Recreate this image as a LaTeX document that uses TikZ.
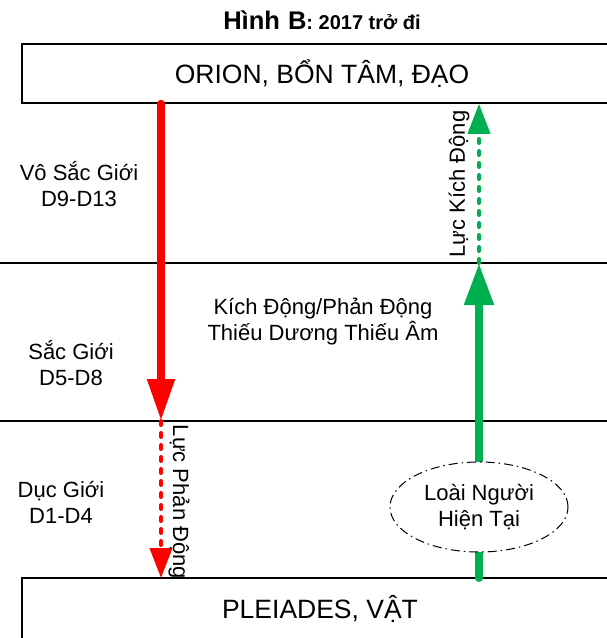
\documentclass[tikz,border=0pt]{standalone}
\usepackage{fontspec}
\setmainfont{Liberation Sans}
\usetikzlibrary{arrows.meta,shapes.geometric}
\definecolor{lucred}{RGB}{255,0,0}
\definecolor{lucgreen}{RGB}{0,176,80}
\tikzset{
  plane/.style={draw,line width=1.6pt,minimum width=600pt,minimum height=59pt,font=\fontsize{26.5}{30}\selectfont},
  realm/.style={align=center,font=\fontsize{22}{26}\selectfont},
  force/.style={line width=8pt,line cap=round},
  weakforce/.style={line width=4pt,line cap=round,dash pattern=on 4pt off 8pt}
}
\begin{document}
\begin{tikzpicture}[x=1pt,y=-1pt]
  \useasboundingbox (0,0) rectangle (607,638);
  \node[font=\bfseries\fontsize{25.5}{29}\selectfont] (title) at (322,20) {Hình\hspace{0.32em}B{\fontsize{20}{24}\selectfont: 2017 trở đi}};
  \node[plane] (orion) at (322,73.5) {ORION, BỔN TÂM, ĐẠO};
  \draw[line width=1.6pt] (22,578) rectangle (640,680);
  \node[font=\fontsize{26.5}{30}\selectfont] (pleiades) at (320,609) {PLEIADES, VẬT};
  \draw[line width=1.6pt] (0,263) -- (607,263);
  \draw[line width=1.6pt] (0,421) -- (607,421);
  \coordinate (sacR) at (161,421);
  \coordinate (vatR) at (161,578);
  \coordinate (sacG) at (479,263);
  \coordinate (vatG) at (479,578);
  % realms
  \node[realm] (vosac) at (79,184) {Vô Sắc Giới\\D9-D13};
  \node[realm] (sac) at (71,363) {Sắc Giới\\D5-D8};
  \node[realm] (duc) at (61,502) {Dục Giới\\D1-D4};
  \node[realm] (kichphan) at (323,322) {Kích Động/Phản Động\\Thiếu Dương Thiếu Âm};
  % forces
  \draw[force,lucred,-{Triangle[length=42pt,width=26pt]}] (orion.south -| sacR) -- (sacR);
  \draw[weakforce,lucred,-{Triangle[length=30pt,width=22pt]}] (sacR) -- (vatR);
  \draw[force,lucgreen,-{Triangle[length=42pt,width=28pt]}] (vatG) -- (sacG);
  \draw[weakforce,lucgreen,-{Triangle[length=30pt,width=22pt]}] (sacG) -- (orion.south -| sacG);
  \node[draw,ellipse,line width=1pt,dash pattern=on 9pt off 4pt on 1.5pt off 4pt,fill=white,
    minimum width=178pt,minimum height=90pt,realm] (nguoi) at (479,507) {Loài Người\\Hiện Tại};
  \node[realm,rotate=90] (luckich) at (459,184) {Lực Kích Động};
  \node[realm,rotate=-90] (lucphan) at (179,502) {Lực Phản Động};
\end{tikzpicture}
\end{document}
